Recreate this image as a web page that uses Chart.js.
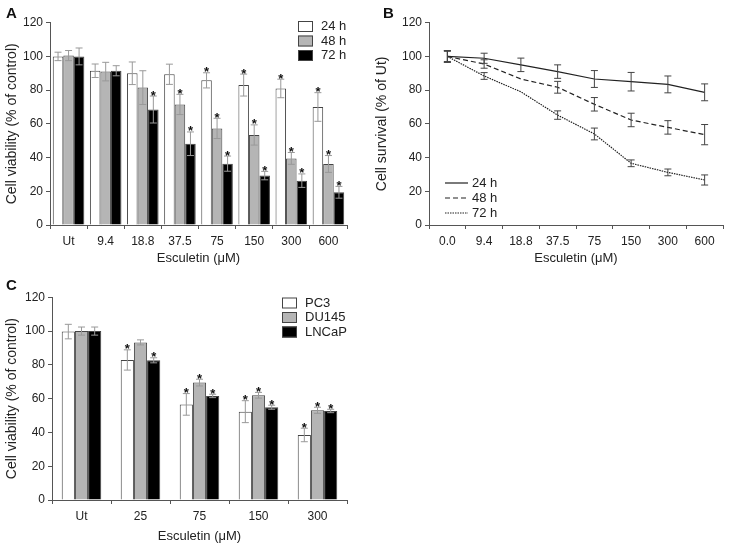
<!DOCTYPE html>
<html>
<head>
<meta charset="utf-8">
<script src="https://cdn.jsdelivr.net/npm/chart.js@4.4.0/dist/chart.umd.min.js"></script>
<style>
  body { margin: 0; background: #fff; }
  #wrap { position: relative; width: 731px; height: 547px; }
  .pane { position: absolute; }
</style>
</head>
<body>
<div id="wrap">
  <div class="pane" style="left:0;top:0;width:365px;height:270px"><canvas id="chartA"></canvas></div>
  <div class="pane" style="left:370px;top:0;width:361px;height:270px"><canvas id="chartB"></canvas></div>
  <div class="pane" style="left:0;top:270px;width:365px;height:277px"><canvas id="chartC"></canvas></div>
</div>
<script>
// Painel A - viabilidade por tempo
var catsA = ['Ut', '9.4', '18.8', '37.5', '75', '150', '300', '600'];
var a24 = [100, 91.5, 90, 89.4, 85.8, 83, 81, 70];
var a48 = [100.5, 91, 81.5, 71.5, 57.3, 53.4, 39.5, 36.2];
var a72 = [100, 91.5, 68.5, 48.2, 36.4, 29.3, 26.3, 19.4];
var a24Err = [2.5, 4, 6.7, 6, 4.5, 6.5, 5.5, 8.5];
var a48Err = [3, 5.5, 10, 6, 6, 6, 3.5, 5];
var a72Err = [5, 3, 8, 7, 4.5, 2.5, 4, 3.5];
var a24Star = [0, 0, 0, 0, 1, 1, 1, 1];
var a48Star = [0, 0, 0, 1, 1, 1, 1, 1];
var a72Star = [0, 0, 1, 1, 1, 1, 1, 1];

// Painel B - sobrevivencia (linhas)
var catsB = ['0.0', '9.4', '18.8', '37.5', '75', '150', '300', '600'];
var b24 = [100, 98.9, 95, 91, 86.6, 85, 83.4, 78.7];
var b48 = [100, 95.5, 86.6, 81.7, 71.6, 62.3, 57.9, 53.6];
var b72 = [100, 88.4, 79, 65.2, 54, 36.6, 31.2, 26.7];
var b24Err = [3.5, 3, 4, 4, 5, 5.5, 5, 5];
var b48Err = [3, 2.5, 0, 3.5, 4, 4, 4, 6];
var b72Err = [3.5, 2, 0, 2.5, 3.5, 2, 2, 3];

// Painel C - linhagens celulares
var catsC = ['Ut', '25', '75', '150', '300'];
var cPC3 = [99.7, 82.9, 56.6, 52.3, 38.5];
var cDU145 = [100, 93.3, 69.5, 62, 53.1];
var cLNCaP = [100, 82.7, 61.6, 54.9, 52.7];
var cPC3Err = [4.3, 6, 6.4, 6.5, 4];
var cDU145Err = [2.4, 1.5, 2, 1.7, 1.8];
var cLNCaPErr = [2.4, 1.5, 1, 1.2, 1];
var cPC3Star = [0, 1, 1, 1, 1];
var cDU145Star = [0, 0, 1, 1, 1];
var cLNCaPStar = [0, 1, 1, 1, 1];

var yTicks = [0, 20, 40, 60, 80, 100, 120];

var FONT = '"Liberation Sans", Arial, Helvetica, sans-serif';
Chart.defaults.font.family = FONT;
Chart.defaults.color = '#222';
Chart.defaults.animation = false;

// Plugin para barras de erro, asteriscos, legenda e letra do painel
var extras = {
    id: 'extras',
    afterDatasetsDraw: function(chart, args, opts) {
        var ctx = chart.ctx;
        var y = chart.scales.y;
        ctx.save();
        chart.data.datasets.forEach(function(ds, i) {
            var meta = chart.getDatasetMeta(i);
            var err = opts.errors[i];
            var st = opts.stars ? opts.stars[i] : null;
            meta.data.forEach(function(el, j) {
                var v = ds.data[j];
                var e = err[j];
                var x = el.x;
                var yt = y.getPixelForValue(v + e);
                var yb = y.getPixelForValue(v - e);
                if (e > 0) {
                    ctx.strokeStyle = opts.errColor;
                    ctx.lineWidth = 1;
                    ctx.setLineDash([]);
                    ctx.beginPath();
                    ctx.moveTo(x, yt); ctx.lineTo(x, yb);
                    ctx.moveTo(x - opts.cap, yt); ctx.lineTo(x + opts.cap, yt);
                    ctx.moveTo(x - opts.cap, yb); ctx.lineTo(x + opts.cap, yb);
                    ctx.stroke();
                }
                if (st && st[j]) {
                    ctx.fillStyle = '#111';
                    ctx.font = 'bold 13px ' + FONT;
                    ctx.textAlign = 'center';
                    ctx.textBaseline = 'alphabetic';
                    ctx.fillText('*', x, yt + 3.5);
                }
            });
        });
        ctx.restore();
    },
    afterDraw: function(chart, args, opts) {
        var ctx = chart.ctx;
        var lg = opts.legend;
        ctx.save();
        ctx.font = '13px ' + FONT;
        ctx.textAlign = 'left';
        ctx.textBaseline = 'middle';
        chart.data.datasets.forEach(function(ds, i) {
            var yy = lg.y + i * lg.dy;
            if (lg.type === 'box') {
                ctx.fillStyle = ds.backgroundColor;
                ctx.fillRect(lg.x, yy - 5.5, 15, 11);
                ctx.strokeStyle = '#444';
                ctx.lineWidth = 1;
                ctx.strokeRect(lg.x + 0.5, yy - 5, 14, 10);
                ctx.fillStyle = '#222';
                ctx.fillText(ds.label, lg.x + 23, yy);
            } else {
                ctx.strokeStyle = ds.borderColor;
                ctx.lineWidth = ds.borderWidth;
                ctx.setLineDash(ds.borderDash || []);
                ctx.beginPath();
                ctx.moveTo(lg.x, yy); ctx.lineTo(lg.x + 23, yy);
                ctx.stroke();
                ctx.setLineDash([]);
                ctx.fillStyle = '#222';
                ctx.fillText(ds.label, lg.x + 27, yy);
            }
        });
        ctx.font = 'bold 15px ' + FONT;
        ctx.textBaseline = 'alphabetic';
        ctx.fillStyle = '#111';
        ctx.fillText(opts.letter[0], opts.letter[1], opts.letter[2]);
        ctx.restore();
    }
};

function scalesFor(yTitle, yWidth, xHeight, xTitlePad, gridOffset) {
    return {
        x: {
            offset: true,
            grid: { display: true, drawOnChartArea: false, offset: gridOffset, tickLength: 4, color: '#555' },
            border: { color: '#555' },
            ticks: { padding: 5, font: { size: 12 }, color: '#222', maxRotation: 0 },
            title: { display: true, text: 'Esculetin (\u03bcM)', font: { size: 13 }, padding: { top: 0, bottom: xTitlePad } },
            afterFit: function(s) { s.height = xHeight; }
        },
        y: {
            min: 0, max: 120,
            afterBuildTicks: function(s) { s.ticks = yTicks.map(function(v) { return { value: v }; }); },
            grid: { display: true, drawOnChartArea: false, tickLength: 4, color: '#555' },
            border: { color: '#555' },
            ticks: { padding: 3, font: { size: 12 }, color: '#222' },
            title: { display: true, text: yTitle, font: { size: 14 }, padding: { top: 4, bottom: 0 } },
            afterFit: function(s) { s.width = yWidth; }
        }
    };
}

document.addEventListener('DOMContentLoaded', function() {
    // Grafico A
    new Chart(document.getElementById('chartA').getContext('2d'), {
        type: 'bar',
        data: {
            labels: catsA,
            datasets: [
                { label: '24 h', data: a24, backgroundColor: '#ffffff' },
                { label: '48 h', data: a48, backgroundColor: '#b5b5b5' },
                { label: '72 h', data: a72, backgroundColor: '#000000' }
            ].map(function(d) {
                d.borderColor = '#444'; d.borderWidth = 1;
                d.categoryPercentage = 0.85; d.barPercentage = 1.0;
                return d;
            })
        },
        options: {
            responsive: true, maintainAspectRatio: false,
            layout: { padding: { top: 22.7, right: 18, left: 0, bottom: 0 } },
            scales: scalesFor('Cell viability (% of control)', 50, 45, 4, true),
            plugins: {
                legend: { display: false }, tooltip: { enabled: false },
                extras: {
                    errors: [a24Err, a48Err, a72Err], stars: [a24Star, a48Star, a72Star],
                    errColor: '#999', cap: 3.5,
                    legend: { type: 'box', x: 298, y: 26.5, dy: 14.5 },
                    letter: ['A', 6, 18]
                }
            }
        },
        plugins: [extras]
    });

    // Grafico B
    new Chart(document.getElementById('chartB').getContext('2d'), {
        type: 'line',
        data: {
            labels: catsB,
            datasets: [
                { label: '24 h', data: b24, borderDash: [] },
                { label: '48 h', data: b48, borderDash: [5, 3] },
                { label: '72 h', data: b72, borderDash: [1.5, 1] }
            ].map(function(d) {
                d.borderColor = '#222'; d.borderWidth = 1.2;
                d.pointRadius = 0; d.tension = 0; d.fill = false;
                return d;
            })
        },
        options: {
            responsive: true, maintainAspectRatio: false,
            layout: { padding: { top: 22.7, right: 8, left: 0, bottom: 0 } },
            scales: scalesFor('Cell survival (% of Ut)', 59, 45, 4, true),
            plugins: {
                legend: { display: false }, tooltip: { enabled: false },
                extras: {
                    errors: [b24Err, b48Err, b72Err], stars: null,
                    errColor: '#444', cap: 3.5,
                    legend: { type: 'line', x: 75, y: 183, dy: 15 },
                    letter: ['B', 13, 18]
                }
            }
        },
        plugins: [extras]
    });

    // Grafico C
    new Chart(document.getElementById('chartC').getContext('2d'), {
        type: 'bar',
        data: {
            labels: catsC,
            datasets: [
                { label: 'PC3', data: cPC3, backgroundColor: '#ffffff' },
                { label: 'DU145', data: cDU145, backgroundColor: '#b5b5b5' },
                { label: 'LNCaP', data: cLNCaP, backgroundColor: '#000000' }
            ].map(function(d) {
                d.borderColor = '#444'; d.borderWidth = 1;
                d.categoryPercentage = 0.67; d.barPercentage = 1.0;
                return d;
            })
        },
        options: {
            responsive: true, maintainAspectRatio: false,
            layout: { padding: { top: 27.3, right: 18, left: 0, bottom: 0 } },
            scales: scalesFor('Cell viability (% of control)', 52, 47, 3, true),
            plugins: {
                legend: { display: false }, tooltip: { enabled: false },
                extras: {
                    errors: [cPC3Err, cDU145Err, cLNCaPErr], stars: [cPC3Star, cDU145Star, cLNCaPStar],
                    errColor: '#999', cap: 3.5,
                    legend: { type: 'box', x: 282, y: 33, dy: 14.5 },
                    letter: ['C', 6, 20]
                }
            }
        },
        plugins: [extras]
    });
});
</script>
</body>
</html>
